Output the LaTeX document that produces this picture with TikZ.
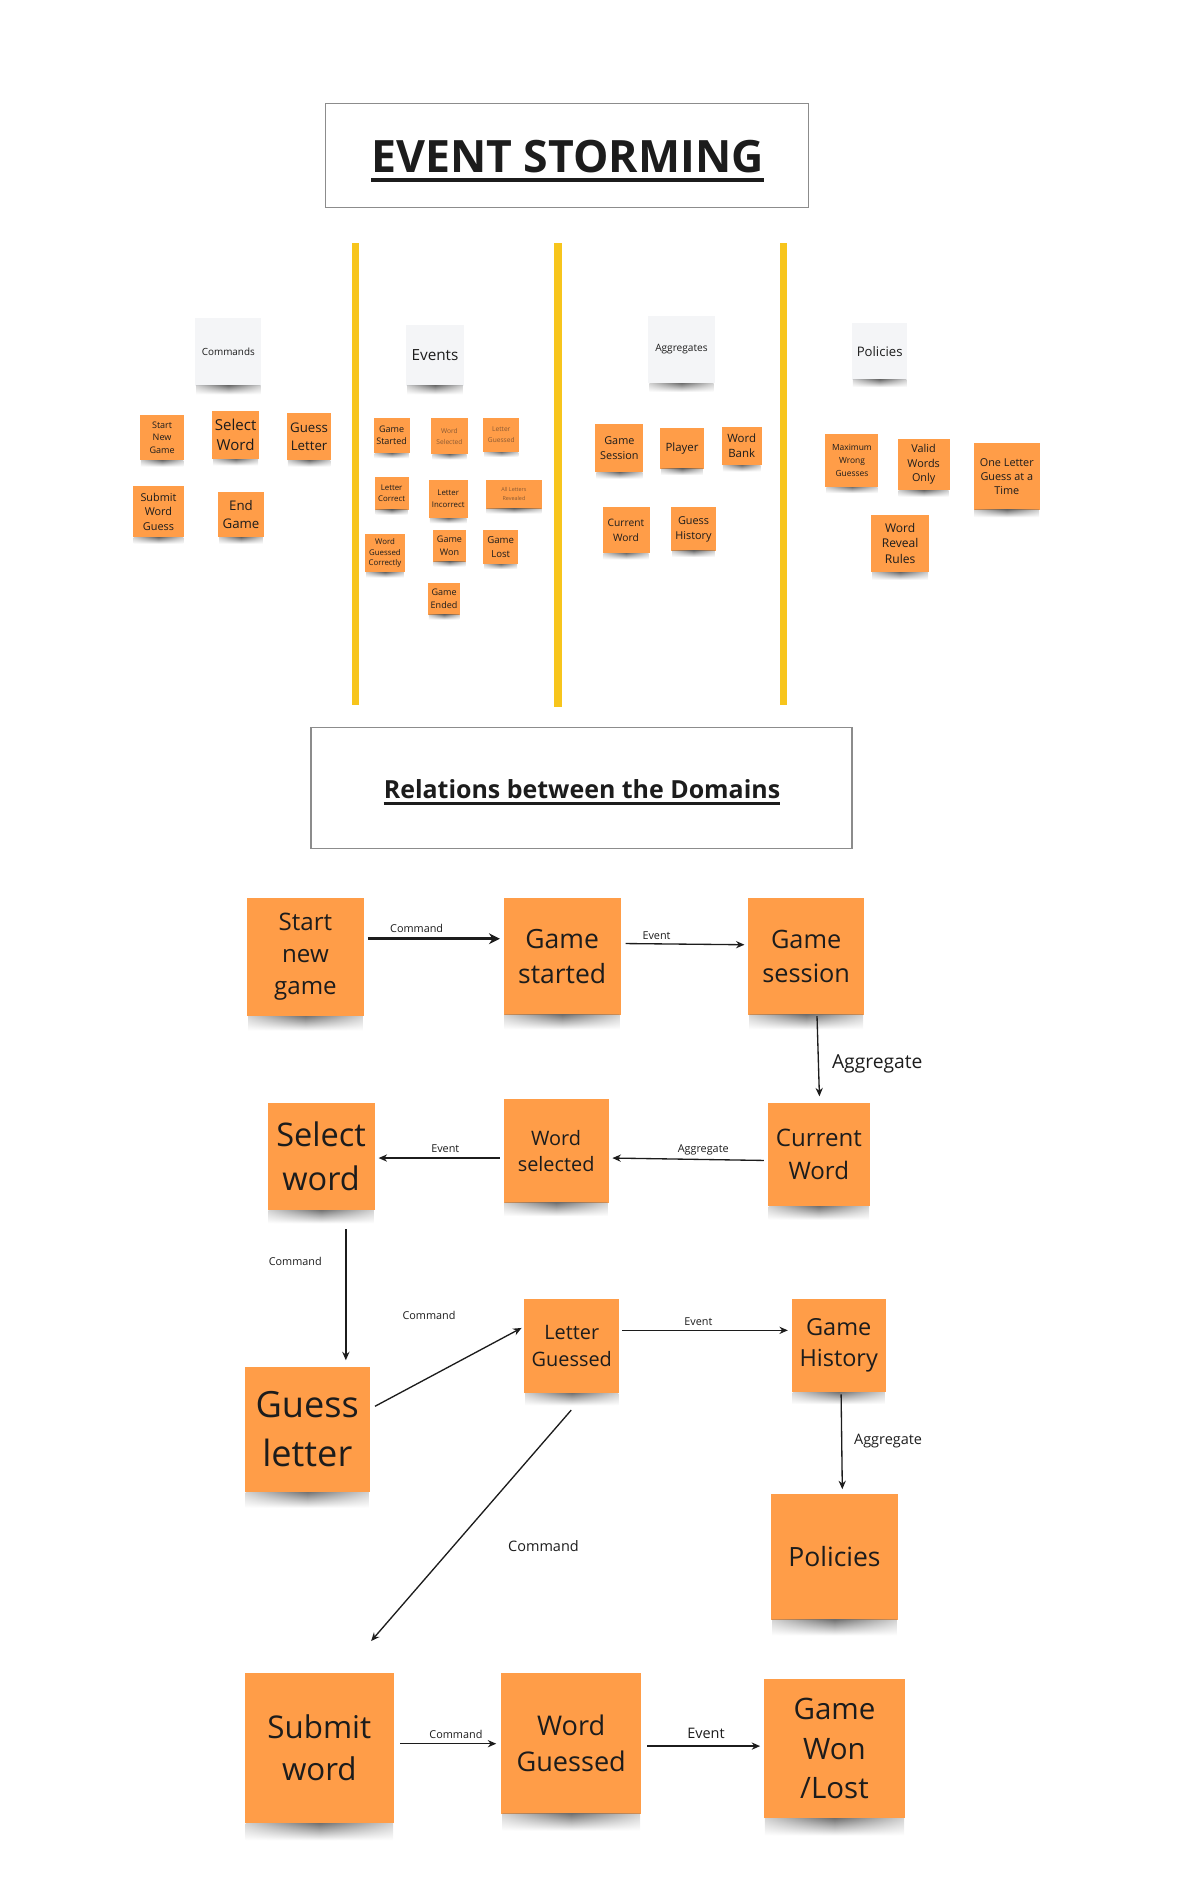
\documentclass[tikz,border=0pt]{standalone}
\usepackage{fontspec}
\setmainfont{Open Sans}
\usetikzlibrary{arrows.meta,calc,fadings}
\definecolor{orng}{HTML}{FF9D48}
\definecolor{ink}{HTML}{1C1C1C}
\definecolor{faded}{HTML}{8A5A34}
\definecolor{hdr}{HTML}{F4F5F7}
\definecolor{ylw}{HTML}{F7C51C}
\definecolor{boxln}{HTML}{8C8C8C}
\tikzfading[name=sidefade, left color=transparent!70, right color=transparent!70, middle color=transparent!0]
\tikzset{
  sticky/.style n args={4}{fill=orng, text=ink, align=center, inner sep=1pt,
     minimum width=#1pt, minimum height=#2pt, font=\fontsize{#3}{#4}\selectfont},
  hdrnote/.style n args={4}{sticky={#1}{#2}{#3}{#4}, fill=hdr},
  fadedtxt/.style={text=faded},
  frame/.style={draw=boxln, line width=1pt, fill=white},
  sep/.style={draw=ylw, line width=6pt},
  shadowband/.style={top color=black!55, bottom color=white, path fading=sidefade},
  arr/.style={draw=ink, line width=1.1pt, -{Stealth[length=7pt,width=6pt]}},
  thickarr/.style={draw=ink, line width=2.4pt, -{Stealth[length=9pt,width=9pt]}},
  lbl/.style={text=ink, inner sep=1pt, font=\fontsize{9}{11}\selectfont},
  biglbl/.style={text=ink, inner sep=1pt, font=\fontsize{12}{14}\selectfont},
}
\newcommand\shunder[2]{\shade[shadowband] ($(#1.south west)+(1,0)$) rectangle ($(#1.south east)+(-1,#2)$);}
\begin{document}
\begin{tikzpicture}[x=1pt,y=-1pt]
\useasboundingbox (0,0) rectangle (987.5,1567.6);

% ---------- title ----------
\node[frame, minimum width=401pt, minimum height=86pt] (tbox) at (470.5,129) {};
\node[inner sep=0pt, text=ink, font=\fontsize{37}{44}\bfseries\selectfont] (ttl) at (471,130) {EVENT STORMING};
\draw[ink, line width=3pt] ([yshift=-6pt]ttl.base west) -- ([yshift=-6pt]ttl.base east);

% ---------- separators ----------
\draw[sep] (295,202) -- (295,585);
\draw[sep] (463,202) -- (463,587);
\draw[sep] (650,202) -- (650,585);

% ---------- headers ----------
\node[hdrnote={55}{56}{8.2}{10}] (hcmd) at (189.5,292) {Commands};
\node[hdrnote={48}{50}{12.7}{15}] (hev) at (361,295) {Events};
\node[hdrnote={55}{56}{8.4}{10}] (hagg) at (565.5,290) {Aggregates};
\node[hdrnote={46}{47}{10.9}{13}] (hpol) at (730,291.5) {Policies};

% ---------- commands ----------
\node[sticky={37}{38}{7.5}{10.5}] (c1) at (134.5,363) {Start\\New\\Game};
\node[sticky={39}{40}{12.5}{17}] (c2) at (195.5,361) {Select\\Word};
\node[sticky={37}{39}{11}{15}] (c3) at (256.5,362.5) {Guess\\Letter};
\node[sticky={43}{43}{9}{12}] (c4) at (131.5,424.5) {Submit\\Word\\Guess};
\node[sticky={38}{38}{11}{15}] (c5) at (200,427) {End\\Game};

% ---------- events ----------
\node[sticky={30}{29}{7.5}{10}] (e1) at (325,361.5) {Game\\Started};
\node[sticky={30}{30}{5.5}{9}, fadedtxt] (e2) at (373,362) {Word\\Selected};
\node[sticky={30}{28}{5.5}{9}, fadedtxt] (e3) at (416,361) {Letter\\Guessed};
\node[sticky={28}{27}{6.5}{9}] (e4) at (325,409.5) {Letter\\Correct};
\node[sticky={32}{32}{6.5}{9.5}] (e5) at (372,414) {Letter\\Incorrect};
\node[sticky={47}{24}{4.5}{7}, fadedtxt] (e6) at (426.5,410) {All Letters\\Revealed};
\node[sticky={33}{32}{6.5}{9}] (e7) at (319.5,459) {Word\\Guessed\\Correctly};
\node[sticky={28}{26}{7.5}{10.5}] (e8) at (373,453) {Game\\Won};
\node[sticky={29}{28}{8}{11}] (e9) at (415.5,454) {Game\\Lost};
\node[sticky={27}{26}{7.5}{10.5}] (e10) at (368.5,497) {Game\\Ended};

% ---------- aggregates ----------
\node[sticky={40}{40}{9}{12.5}] (a1) at (514,372) {Game\\Session};
\node[sticky={36}{34}{9.5}{13}] (a2) at (566,372) {Player};
\node[sticky={33}{32}{9.5}{13}] (a3) at (615.5,370) {Word\\Bank};
\node[sticky={39}{38}{8.5}{12}] (a4) at (519.5,440) {Current\\Word};
\node[sticky={37}{36}{9}{12.5}] (a5) at (575.5,439) {Guess\\History};

% ---------- policies ----------
\node[sticky={44}{44}{7}{11}] (p1) at (707,382) {Maximum\\Wrong\\Guesses};
\node[sticky={43}{43}{9}{12}] (p2) at (766.5,385.5) {Valid\\Words\\Only};
\node[sticky={55}{55}{9}{12}] (p3) at (835.5,395.5) {One Letter\\Guess at a\\Time};
\node[sticky={48}{48}{10}{13}] (p4) at (747,451) {Word\\Reveal\\Rules};

% ---------- relations title ----------
\node[frame, minimum width=449pt, minimum height=100pt] (rbox) at (482.5,654) {};
\node[inner sep=0pt, text=ink, font=\fontsize{20.7}{25}\bfseries\selectfont] (rttl) at (483,655) {Relations between the Domains};
\draw[ink, line width=2pt] ([yshift=-4pt]rttl.base west) -- ([yshift=-4pt]rttl.base east);

% ---------- flow notes ----------
\node[sticky={97}{98}{20}{26.5}] (sng) at (253.5,794) {Start\\new\\game};
\node[sticky={97}{97}{22}{29}] (gst) at (466.5,793.5) {Game\\started};
\node[sticky={96}{97}{21}{28}] (gss) at (669,793.5) {Game\\session};
\node[sticky={85}{86}{20}{27}] (cw) at (679.5,958) {Current\\Word};
\node[sticky={87}{86}{16.5}{22}] (wsel) at (461.5,955) {Word\\selected};
\node[sticky={89}{89}{27}{36}] (selw) at (266.5,959.5) {Select\\word};
\node[sticky={104}{104}{30}{40}] (gl) at (255,1186) {Guess\\letter};
\node[sticky={79}{78}{16.5}{22}] (lg) at (474.5,1117) {Letter\\Guessed};
\node[sticky={78}{77}{19.5}{26}] (gh) at (696,1116.5) {Game\\History};
\node[sticky={105}{104}{22}{29}] (pol) at (692.5,1292) {Policies};
\node[sticky={124}{125}{26}{35}] (sw) at (265,1450.5) {Submit\\word};
\node[sticky={116}{117}{22.5}{30}] (wg) at (474,1446.5) {Word\\Guessed};
\node[sticky={117}{116}{24.5}{33}] (gwl) at (692.5,1451) {Game\\Won\\/Lost};

% ---------- soft shadows under the notes ----------
\foreach \n/\h in {hcmd/7,hev/7,hagg/7,hpol/6,c1/5,c2/5,c3/5,c4/5,c5/5,
  e1/4,e2/4,e3/4,e4/4,e5/4,e6/4,e7/4,e8/4,e9/4,e10/4,
  a1/5,a2/5,a3/5,a4/5,a5/5,p1/5,p2/5,p3/6,p4/6,
  sng/12,gst/12,gss/12,cw/11,wsel/11,selw/11,gl/13,lg/10,gh/10,pol/13,sw/14,wg/14,gwl/14}
  {\shunder{\n}{\h}}

% ---------- connectors ----------
\draw[thickarr] ($(sng.east)+(3,-15)$) -- node[lbl, above=3pt, pos=0.37] (l1) {Command} ($(gst.west)+(-3,-14.5)$);
\draw[arr] ($(gst.east)+(4,-10.5)$) -- node[lbl, above=2pt, pos=0.26] (l2) {Event} ($(gss.west)+(-3,-9.5)$);
\draw[arr] ($(gss.south)+(9,1)$) -- ($(cw.north)+(0.5,-5)$);
\node[text=ink, inner sep=1pt, font=\fontsize{16}{19}\selectfont] (l3) at (728,883) {Aggregate};
\draw[arr] ($(cw.west)+(-3,5)$) -- node[lbl, above=2pt, pos=0.4] (l4) {Aggregate} ($(wsel.east)+(3,6)$);
\draw[arr] ($(wsel.west)+(-3,6)$) -- node[lbl, above=3pt, pos=0.45] (l5) {Event} ($(selw.east)+(3,1.5)$);
\draw[arr] ($(selw.south)+(20.5,16)$) -- ($(gl.north)+(32,-5)$);
\node[lbl] (l6) at (245,1047) {Command};
\draw[arr] ($(gl.east)+(4,-19)$) -- ($(lg.west)+(-2,-15)$);
\node[lbl] (l7) at (356,1092) {Command};
\draw[arr] ($(lg.east)+(2,-13)$) -- node[lbl, above=2pt, pos=0.46] (l8) {Event} ($(gh.west)+(-3,-12.5)$);
\draw[arr] ($(gh.south)+(2,2)$) -- ($(pol.north)+(6.5,-4)$);
\node[biglbl] (l9) at (737,1196) {Aggregate};
\draw[arr] ($(lg.south)+(-0.5,14)$) -- ($(sw.north)+(43,-26)$);
\node[biglbl] (l10) at (451,1283) {Command};
\draw[arr] ($(sw.east)+(5,-3.5)$) -- node[lbl, above=3pt, pos=0.58] (l11) {Command} ($(wg.west)+(-4,0.5)$);
\draw[arr] ($(wg.east)+(5,2.5)$) -- node[biglbl, above=5pt, pos=0.52] (l12) {Event} ($(gwl.west)+(-3,-2)$);
\end{tikzpicture}
\end{document}
